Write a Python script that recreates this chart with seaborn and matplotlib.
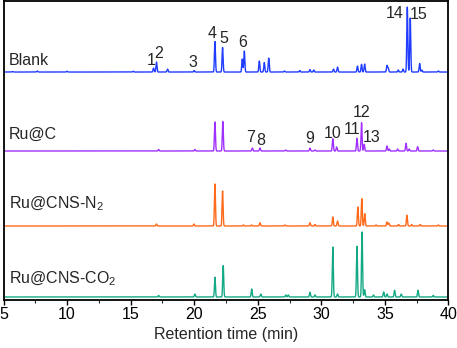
import numpy as np
import pandas as pd
import matplotlib
matplotlib.use("Agg")
import matplotlib.pyplot as plt
from matplotlib.ticker import MultipleLocator
import seaborn as sns

# ---- data (peak retention times in min, peak heights in arbitrary units) ----
samples = ["Blank", "Ru@C", "Ru@CNS-N$\\mathregular{_2}$", "Ru@CNS-CO$\\mathregular{_2}$"]
colors = ["#1f3cff", "#a030ff", "#ff6a1a", "#14a985"]
offsets = [228, 149, 74, 3]

blank_t = [5.7, 7.65, 10.0, 15.2, 16.8, 17.03, 17.9, 20.0, 21.63, 22.23, 23.78, 23.94,
           25.12, 25.51, 25.86, 27.1, 28.3, 29.1, 29.4, 30.95, 31.27, 32.84, 33.16,
           33.4, 35.16, 35.26, 36.05, 36.42, 36.76, 36.99, 37.73, 37.9, 39.2]
blank_h = [0.5, 1, 0.8, 0.8, 4, 10, 3, 1.5, 30.5, 24.5, 13, 21,
           11, 9.5, 14, 1, 1.5, 2.5, 2, 3, 5, 6, 7.7,
           8, 6.5, 4, 2, 3, 65, 54, 8.5, 2, 1]

ruc_t = [17.2, 20.05, 21.63, 22.25, 24.57, 25.17, 27.2, 29.1, 29.5, 30.9, 31.2,
         32.8, 33.16, 33.37, 35.16, 35.34, 36.0, 36.66, 36.9, 37.57, 38.8]
ruc_h = [1.5, 1.5, 29, 29.5, 3, 3, 1, 3, 1, 12.3, 4,
         12.7, 28.3, 6.7, 5, 2, 2, 7.7, 2, 4.3, 1]

n2_t = [17.03, 19.97, 21.63, 22.23, 23.86, 24.5, 25.17, 27.14, 29.1, 29.5, 30.9,
        31.27, 32.87, 33.18, 33.41, 34.3, 35.16, 35.3, 36.07, 36.73, 37.1, 37.78, 39.2]
n2_h = [2, 2, 42, 35, 1, 1, 3.3, 1, 3.3, 1.5, 9,
        5, 19, 27.3, 12.3, 1, 4, 3, 1.5, 10.7, 1.5, 1.5, 1]

co2_t = [17.2, 20.05, 21.63, 22.28, 24.52, 25.23, 27.2, 27.4, 29.1, 29.5, 30.9,
         31.27, 32.8, 33.2, 33.4, 34.1, 34.9, 35.16, 35.76, 36.28, 37.6, 38.8]
co2_h = [1.5, 3, 19.7, 31.3, 8, 3, 2, 2, 4.7, 2, 50,
         3, 50.7, 65, 7.3, 2, 5, 3, 6.7, 3, 6.7, 1.5]

peak_times = [blank_t, ruc_t, n2_t, co2_t]
peak_heights = [blank_h, ruc_h, n2_h, co2_h]

# peak number labels: (text, time, height above trace baseline) for Blank and Ru@C
blank_labels = ["1", "2", "3", "4", "5", "6", "14", "15"]
blank_label_t = [16.58, 17.21, 19.89, 21.39, 22.30, 23.83, 35.8, 37.62]
blank_label_y = [7, 14, 5, 34, 29.5, 25, 54, 53]
ruc_label = ["7", "8", "9", "10", "11", "12", "13"]
ruc_label_t = [24.44, 25.25, 29.11, 30.85, 32.42, 33.13, 33.96]
ruc_label_y = [9, 6, 8, 13, 17, 34, 9]

x_ticks = [5, 10, 15, 20, 25, 30, 35, 40]

# ---- build long-form table of traces ----
t_grid = np.arange(5.0, 40.0001, 0.005)
sigma = 0.04
frames = []
for name, off, pts, hts in zip(samples, offsets, peak_times, peak_heights):
    sig = np.zeros_like(t_grid)
    for p, h in zip(pts, hts):
        sig += h * np.exp(-0.5 * ((t_grid - p) / sigma) ** 2)
    frames.append(pd.DataFrame({"time": t_grid, "signal": sig + off, "sample": name}))
df = pd.concat(frames, ignore_index=True)

# ---- plot ----
sns.set_theme(style="ticks")
plt.rcParams["font.family"] = ["Liberation Sans", "DejaVu Sans"]
plt.rcParams["mathtext.fontset"] = "custom"
plt.rcParams["mathtext.rm"] = "Liberation Sans"

FS = 11.5
fig = plt.figure(figsize=(4.57, 3.48), dpi=100)
ax = fig.add_axes([0.0077, 0.138, 0.9737, 0.859])

sns.lineplot(data=df, x="time", y="signal", hue="sample", palette=colors,
             hue_order=samples, estimator=None, sort=False, linewidth=1.0,
             legend=False, ax=ax)

ax.set_xlim(5, 40)
ax.set_ylim(0, 299)
ax.set_yticks([])
ax.set_ylabel("")
ax.set_xticks(x_ticks)
ax.set_xticklabels([str(v) for v in x_ticks])
ax.xaxis.set_minor_locator(MultipleLocator(2.5))
ax.tick_params(axis="x", which="major", direction="out", length=3.5, width=1.0,
               labelsize=FS, pad=1.5, colors="black")
ax.tick_params(axis="x", which="minor", direction="out", length=2, width=0.8)
ax.set_xlabel("Retention time (min)", fontsize=FS, labelpad=3.5)
for s in ax.spines.values():
    s.set_visible(True)
    s.set_linewidth(1.3)
    s.set_color("black")

# sample names
name_y = [235.5, 161.5, 92, 17]
for name, y in zip(samples, name_y):
    ax.text(5.45, y, name, fontsize=FS, ha="left", va="baseline")

# peak numbers
for lab, t, y in zip(blank_labels, blank_label_t, blank_label_y):
    ax.text(t, offsets[0] + y, lab, fontsize=FS, ha="center", va="baseline")
for lab, t, y in zip(ruc_label, ruc_label_t, ruc_label_y):
    ax.text(t, offsets[1] + y, lab, fontsize=FS, ha="center", va="baseline")

fig.savefig("out.png", dpi=100)
